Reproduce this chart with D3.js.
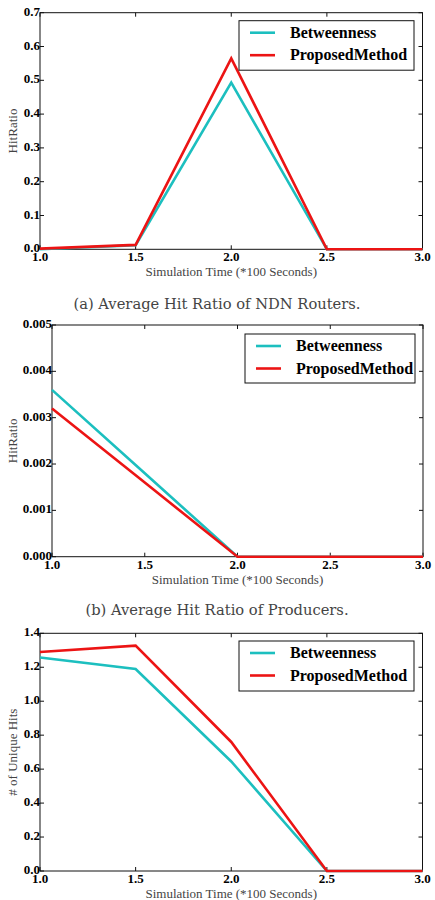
<!DOCTYPE html>
<html>
<head>
<meta charset="utf-8">
<script src="https://cdn.jsdelivr.net/npm/d3@7"></script>
<style>
  body { margin: 0; background: #fff; }
  svg { display: block; }
</style>
</head>
<body>
<div id="chart"></div>
<script>
// shared x values (simulation time, *100 s)
const simTimes = [1.0, 1.5, 2.0, 2.5, 3.0];
const xTicks = [1.0, 1.5, 2.0, 2.5, 3.0];
const seriesNames = ["Betweenness", "ProposedMethod"];

// panel (a) average hit ratio of NDN routers
const routersBetweenness = [0.0, 0.012, 0.493, 0.0, 0.0];
const routersProposed = [0.002, 0.013, 0.565, 0.0, 0.0];
const routersYTicks = [0.0, 0.1, 0.2, 0.3, 0.4, 0.5, 0.6, 0.7];

// panel (b) average hit ratio of producers
const producersBetweenness = [0.0036, 0.0018, 0.0, 0.0, 0.0];
const producersProposed = [0.0032, 0.0016, 0.0, 0.0, 0.0];
const producersYTicks = [0.000, 0.001, 0.002, 0.003, 0.004, 0.005];

// panel (c) number of unique hits
const uniqueBetweenness = [1.257, 1.19, 0.645, 0.0, 0.0];
const uniqueProposed = [1.29, 1.327, 0.76, 0.0, 0.0];
const uniqueYTicks = [0.0, 0.2, 0.4, 0.6, 0.8, 1.0, 1.2, 1.4];

const colors = { "Betweenness": "#1cbfbf", "ProposedMethod": "#ec1414" };

const svg = d3.select("#chart")
    .append("svg")
    .attr("width", 435)
    .attr("height", 900);

// draws one matplotlib-style panel
function drawPanel(cfg) {
    const g = svg.append("g");
    const x = d3.scaleLinear().domain([1.0, 3.0]).range([cfg.left, cfg.right]);
    const y = d3.scaleLinear().domain([0, d3.max(cfg.yTicks)]).range([cfg.bottom, cfg.top]);
    const tickLen = 4;

    // frame
    g.append("rect")
        .attr("x", cfg.left).attr("y", cfg.top)
        .attr("width", cfg.right - cfg.left).attr("height", cfg.bottom - cfg.top)
        .attr("fill", "none").attr("stroke", "#111").attr("stroke-width", 1);

    // ticks pointing inward on all four sides
    xTicks.forEach(function (t) {
        g.append("line").attr("x1", x(t)).attr("x2", x(t))
            .attr("y1", cfg.bottom).attr("y2", cfg.bottom - tickLen)
            .attr("stroke", "#111");
        g.append("line").attr("x1", x(t)).attr("x2", x(t))
            .attr("y1", cfg.top).attr("y2", cfg.top + tickLen)
            .attr("stroke", "#111");
    });
    cfg.yTicks.forEach(function (t) {
        g.append("line").attr("x1", cfg.left).attr("x2", cfg.left + tickLen)
            .attr("y1", y(t)).attr("y2", y(t)).attr("stroke", "#111");
        g.append("line").attr("x1", cfg.right).attr("x2", cfg.right - tickLen)
            .attr("y1", y(t)).attr("y2", y(t)).attr("stroke", "#111");
    });

    // tick labels
    g.selectAll(".xlab")
        .data(xTicks)
        .enter()
        .append("text")
        .attr("x", d => x(d))
        .attr("y", cfg.bottom + 12)
        .attr("text-anchor", "middle")
        .style("font-family", "'Liberation Serif', serif")
        .style("font-weight", "bold")
        .style("font-size", "13px")
        .text(d => d3.format(".1f")(d));

    g.selectAll(".ylab")
        .data(cfg.yTicks)
        .enter()
        .append("text")
        .attr("x", cfg.left)
        .attr("y", d => y(d) + 3)
        .attr("text-anchor", "end")
        .style("font-family", "'Liberation Serif', serif")
        .style("font-weight", "bold")
        .style("font-size", "13px")
        .text(d => d3.format(cfg.yFmt)(d));

    // lines
    const line = d3.line().x(d => x(d[0])).y(d => y(d[1]));
    cfg.series.forEach(function (s) {
        g.append("path")
            .datum(d3.zip(simTimes, s.values))
            .attr("d", line)
            .attr("fill", "none")
            .attr("stroke", colors[s.name])
            .attr("stroke-width", 2.6)
            .attr("stroke-linejoin", "miter");
    });

    // legend
    const leg = g.append("g");
    leg.append("rect")
        .attr("x", cfg.legend.x).attr("y", cfg.legend.y)
        .attr("width", cfg.legend.w).attr("height", cfg.legend.h)
        .attr("fill", "#fff").attr("stroke", "#111").attr("stroke-width", 1);
    seriesNames.forEach(function (name, i) {
        const ly = cfg.legend.y + 12 + i * 22.5;
        leg.append("line")
            .attr("x1", cfg.legend.x + 11).attr("x2", cfg.legend.x + 36)
            .attr("y1", ly).attr("y2", ly)
            .attr("stroke", colors[name]).attr("stroke-width", 2.6);
        leg.append("text")
            .attr("x", cfg.legend.x + 51)
            .attr("y", ly + 5)
            .style("font-family", "'Liberation Serif', serif")
            .style("font-weight", "bold")
            .style("font-size", "16px")
            .text(name);
    });

    // axis titles
    g.append("text")
        .attr("x", (cfg.left + cfg.right) / 2)
        .attr("y", cfg.bottom + 27)
        .attr("text-anchor", "middle")
        .style("font-family", "'Liberation Serif', serif")
        .style("font-size", "13px")
        .style("fill", "#444")
        .text("Simulation Time (*100 Seconds)");

    g.append("text")
        .attr("transform", `translate(17, ${(cfg.top + cfg.bottom) / 2}) rotate(-90)`)
        .attr("text-anchor", "middle")
        .style("font-family", "'Liberation Serif', serif")
        .style("font-size", "13px")
        .style("fill", "#444")
        .text(cfg.yLabel);

    if (cfg.caption) {
        g.append("text")
            .attr("x", 217)
            .attr("y", cfg.captionY)
            .attr("text-anchor", "middle")
            .style("font-family", "'DejaVu Serif', serif")
            .style("font-size", "14.7px")
            .style("fill", "#444")
            .text(cfg.caption);
    }
}

drawPanel({
    left: 40, right: 422.5, top: 12.7, bottom: 249.3,
    yTicks: routersYTicks, yFmt: ".1f", yLabel: "HitRatio",
    series: [{ name: "Betweenness", values: routersBetweenness },
             { name: "ProposedMethod", values: routersProposed }],
    legend: { x: 239, y: 20.7, w: 175, h: 49.5 },
    caption: "(a) Average Hit Ratio of NDN Routers.", captionY: 309
});

drawPanel({
    left: 52, right: 423, top: 325, bottom: 556.7,
    yTicks: producersYTicks, yFmt: ".3f", yLabel: "HitRatio",
    series: [{ name: "Betweenness", values: producersBetweenness },
             { name: "ProposedMethod", values: producersProposed }],
    legend: { x: 245, y: 334, w: 170, h: 49 },
    caption: "(b) Average Hit Ratio of Producers.", captionY: 615
});

drawPanel({
    left: 40, right: 422.5, top: 633.3, bottom: 871,
    yTicks: uniqueYTicks, yFmt: ".1f", yLabel: "# of Unique Hits",
    series: [{ name: "Betweenness", values: uniqueBetweenness },
             { name: "ProposedMethod", values: uniqueProposed }],
    legend: { x: 239, y: 641, w: 175, h: 50 }
});
</script>
</body>
</html>
